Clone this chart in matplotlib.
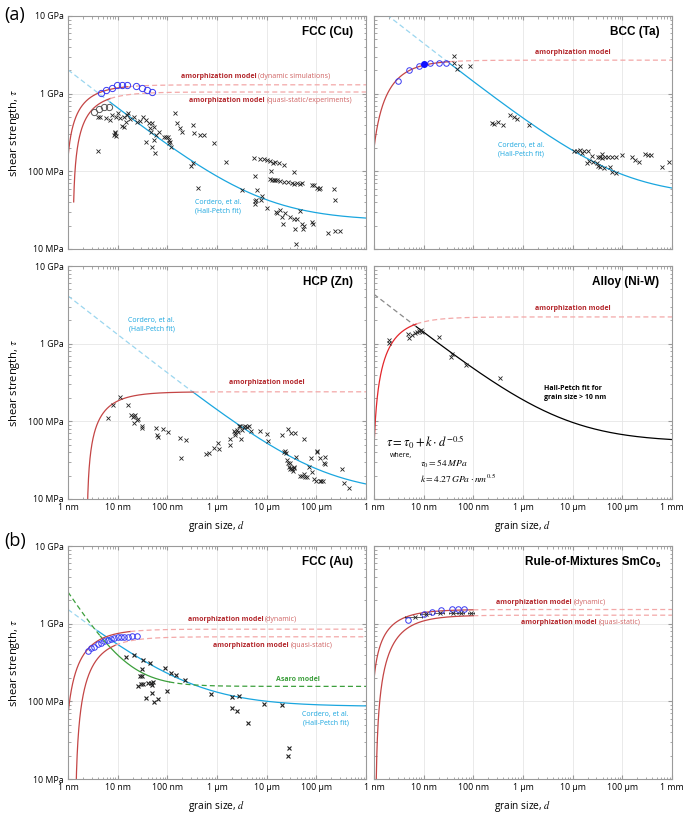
import matplotlib
matplotlib.use('Agg')
import matplotlib.pyplot as plt
import numpy as np
from matplotlib.ticker import NullFormatter

plt.rcParams['font.family'] = ['Open Sans', 'DejaVu Sans']
plt.rcParams['mathtext.fontset'] = 'stix'

# ---------------- data (grain size d in nm, shear strength tau in MPa) ----------------
# FCC (Cu)
cu_d = [4.0, 4.5, 5.9, 7.1, 7.7, 9.4, 11.3, 10, 13.6, 15.4, 18, 21, 24.5, 28.6, 32.4, 37.8, 42, 49, 44, 47, 53, 60, 67, 55,
        8.7, 9.0, 8.3, 9.4, 12.2, 13.6, 14.9, 15.9, 4.0, 37, 49, 56,
        84, 94, 102, 106, 115, 110, 120, 145, 157, 197, 183,
        300, 329, 334, 339, 421, 448, 539, 857, 1520, 3190,
        5470, 5820, 6200, 5910, 6390, 5910, 7690, 8050, 10200,
        7450, 8710, 10200, 11900, 13400, 14900, 17500, 22000, 12400,
        11500, 12800, 13800, 14900, 16100, 18800, 22700, 26500, 32400, 35000, 40800, 47600, 51400, 81800, 88400,
        103000, 111000, 120000,
        15700, 16100, 18800, 20400, 21300, 23800, 30000, 35000, 37800, 40800, 47600, 51400, 55600, 53900, 81800,
        85700, 172000, 234000, 304000,
        35000, 39600, 223000, 234000]
cu_tau = [505, 495, 481, 458, 531, 505, 481, 558, 505, 531, 467, 505, 436, 449, 505, 458, 423, 415, 358, 324, 376, 294, 324, 254,
          324, 309, 294, 285, 384, 376, 436, 558, 180, 241, 208, 174,
          280, 274, 280, 254, 241, 230, 208, 558, 423, 324, 358,
          117, 127, 395, 309, 61, 294, 294, 230, 130, 57,
          147, 86, 43, 41, 57, 38, 43, 48, 34,
          143, 143, 140, 134, 127, 130, 127, 121, 102,
          79, 78, 78, 78, 78, 74, 72, 72, 70, 69, 70, 68, 70, 67, 66,
          61, 59, 61,
          30, 29, 32, 26, 21, 29, 26, 24, 18, 24, 31, 21, 20, 18, 22,
          21, 16, 17, 17,
          97, 11.6, 59, 43]
cu_sim_d = [4.6, 5.9, 7.7, 9.7, 12.2, 15.4, 23.7, 30.8, 39, 49]
cu_sim_tau = [1030, 1110, 1200, 1290, 1300, 1300, 1250, 1170, 1110, 1040]
cu_exp_d = [3.3, 4.2, 5.2, 6.6]
cu_exp_tau = [580, 630, 665, 680]

# BCC (Ta)
ta_d = [39.9, 41, 47, 54, 85, 233, 260, 308, 401, 546, 668, 767, 1340,
        10800, 12100, 14100, 15700, 17200, 20100, 24200, 19200, 21400, 26200,
        30600, 33100, 35700, 35700, 38600, 39800, 45000, 52600, 61400, 74000,
        97800, 33100, 43700, 56800, 63300, 74000, 160000, 176000, 212000, 289000,
        327000, 382000, 627000, 881000]
ta_tau = [3035, 2490, 2070, 2260, 2260, 415, 407, 436, 395, 531, 495, 467, 395,
          185, 180, 189, 171, 185, 180, 158, 127, 134, 130,
          127, 117, 115, 155, 168, 148, 155, 155, 155, 155,
          163, 155, 110, 112, 98, 95, 155, 138, 133, 168,
          163, 163, 115, 133]
ta_sim_d = [3.1, 5.0, 8.1, 13.7, 20.8, 27.9]
ta_sim_tau = [1450, 2010, 2280, 2500, 2500, 2450]
ta_fill_d = [10.0]
ta_fill_tau = [2400]

# HCP (Zn)
zn_d = [6.3, 8.1, 11, 16.1, 18.8, 20, 21, 21.7, 22.7, 24.5, 25.7, 30.9, 30.9, 60, 62, 65, 82, 103, 183, 191, 238,
        610, 679, 857, 1030, 1080, 1800, 1850, 2170, 2270, 2340, 2530, 2610, 2820, 2950, 3040, 3190, 3440, 3720,
        4020, 4340, 4840,
        7450, 10200, 10500, 20400, 22700, 26500, 30900, 37800, 57300,
        23800, 24900, 25700, 26500, 27700, 29000, 30000, 30900, 32400, 33900, 35000, 36100, 39600,
        47600, 51400, 55600, 60100, 64900, 70100, 81800, 88400, 100000, 103000, 103000, 120000, 124000, 152000,
        140000, 136000,
        329000, 366000, 448000, 152000, 117000, 78100]
zn_tau = [110, 163, 208, 160, 121, 115, 117, 95, 119, 105, 108, 86, 82, 83, 67, 63, 80, 72, 61, 34, 58,
          38, 39, 45, 52, 44, 49, 59, 74, 67, 70, 78, 72, 87, 87, 59, 78, 84, 87,
          84, 87, 76,
          75, 69, 55, 66, 40, 79, 70, 70, 59,
          41, 39, 32, 29, 26, 24, 29, 25, 24, 23, 25, 26, 35,
          20, 20, 21, 19, 19, 26, 22, 18, 17, 40, 41, 17, 17, 35,
          29, 17,
          24, 16, 14, 28, 34, 34]

# Alloy (Ni-W)
niw_d = [1.98, 1.98, 4.85, 5.0, 5.8, 6.6, 7.5, 8.0, 8.7, 9.3, 20.2, 35, 37.5, 70, 343]
niw_tau = [1110, 1030, 1350, 1200, 1290, 1380, 1420, 1450, 1490, 1420, 1230, 670, 730, 530, 360]

# FCC (Au)
au_d = [14.9, 21, 32.4, 44, 91, 118, 150, 223,
        27.8, 30.9, 30.4, 25.3, 29.5, 32.4, 40.8, 47, 50, 50.8,
        37.8, 53.9, 63.7, 49, 98.5,
        754, 1990, 2050, 2530, 2770, 4160, 8660, 20500, 28300, 26600]
au_tau = [372, 391, 344, 312, 269, 232, 221, 187,
          214, 214, 259, 158, 168, 168, 174, 174, 164, 179,
          112, 98, 108, 130, 136,
          126, 113, 82, 75, 116, 53, 92, 91, 25, 20]
au_sim_d = [2.5, 2.9, 3.4, 4.0, 4.6, 5.4, 6.3, 7.4, 8.6, 10, 11.7, 13.6, 15.9, 19.4, 24.5]
au_sim_tau = [449, 481, 505, 541, 568, 597, 615, 628, 646, 666, 679, 679, 679, 692, 692]

# Rule-of-mixtures SmCo5
sm_sim_d = [4.85, 10, 15, 22.8, 37.4, 49.4, 64.5]
sm_sim_tau = [1133, 1353, 1435, 1493, 1553, 1553, 1553]
sm_d = [6.8, 11.3, 21, 39, 57.6, 89]
sm_tau = [1227, 1327, 1380, 1380, 1380, 1393]
sm_err = [2.5, 3, 5, 7, 8, 12]

# model parameters
# Hall-Petch: tau0 [MPa], k [MPa nm^0.5], d where the fit becomes solid
cu_hp = [23, 2000, 7.1]
ta_hp = [47, 13895, 33.6]
zn_hp = [11.5, 4108, 339]
niw_hp = [54, 4270, 7.15]
au_hp = [86, 1438, 4.0]
au_asaro = [156, 2400, 4.5, 110]
# amorphization model: saturation tau, a, n, d where it turns dashed
cu_dyn = [1300, 0.885, 1.0, 16]
cu_qs = [1050, 1.25, 1.0, 7.1]
ta_am = [2700, 0.729, 2.0, 33.6]
zn_am = [240, 2.386, 1.0, 339]
niw_am = [2210, 0.926, 1.5, 7.15]
au_dyn = [851, 0.816, 1.5, 18]
au_qs = [679, 1.38, 1.5, 9]
sm_dyn = [1524, 0.874, 1.0, 100]
sm_qs = [1288, 1.0665, 1.5, 100]

xt = [1, 10, 100, 1e3, 1e4, 1e5, 1e6]
xt_labels = ['1 nm', '10 nm', '100 nm', '1 µm', '10 µm', '100 µm', '1 mm']
yt = [10, 100, 1000, 10000]
yt_labels = ['10 MPa', '100 MPa', '1 GPa', '10 GPa']

RED = '#c44545'
RED_DASH = '#f3a8a8'
RED_TXT = '#b3262b'
RED_LIGHT = '#cf6262'
CYAN = '#1aa6df'
CYAN_DASH = '#9bd6ef'
BLUE = '#3a3af2'
GREEN = '#3c9f3c'
DASH = (0, (4, 2.5))

fig = plt.figure(figsize=(6.85, 8.16), dpi=100)
L, R, W, H = 0.0993, 0.546, 0.435, 0.2855
rows = [0.6949, 0.3885, 0.0453]


def frame(ax, left, xlab):
    ax.set_xscale('log')
    ax.set_yscale('log')
    ax.set_xlim(1, 1e6)
    ax.set_ylim(10, 1e4)
    ax.set_xticks(xt)
    ax.set_yticks(yt)
    if xlab:
        labs = list(xt_labels)
        if left:
            labs[-1] = ''
        ax.set_xticklabels(labs)
        ax.set_xlabel(r'grain size, $d$', fontsize=7.3, labelpad=5)
    else:
        ax.set_xticklabels([])
    if left:
        ax.set_yticklabels(yt_labels)
        ax.set_ylabel(r'shear strength, $\tau$', fontsize=8)
        ax.yaxis.set_label_coords(-0.153, 0.5)
    else:
        ax.set_yticklabels([])
    ax.xaxis.set_minor_formatter(NullFormatter())
    ax.yaxis.set_minor_formatter(NullFormatter())
    ax.grid(True, which='major', color='#e6e6e6', lw=0.6)
    ax.set_axisbelow(True)
    ax.tick_params(which='both', direction='in', top=True, right=True, color='#999999',
                   labelsize=6.3, pad=3)
    ax.tick_params(which='major', length=3)
    ax.tick_params(which='minor', length=1.8)
    for s in ax.spines.values():
        s.set_color('#9a9a9a')
        s.set_linewidth(0.8)


def pieces(ax, f, segs):
    for lo, hi, c, ls in segs:
        if hi > lo:
            dd = np.logspace(np.log10(lo), np.log10(hi), 500)
            ax.plot(dd, f(dd), color=c, ls=ls, lw=0.9)


def hall_petch(ax, p, color=CYAN, dcolor=CYAN_DASH):
    tau0, k, ds = p
    pieces(ax, lambda d: tau0 + k * d ** -0.5, [(1, ds, dcolor, DASH), (ds, 1e6, color, '-')])


def amorph(ax, p, start=None, color=RED):
    ts, a, n, ds = p
    if start is None:
        start = max(1.0, a * 1.0001)
    f = lambda d: ts * np.clip(1 - a / d, 1e-9, None) ** n
    pieces(ax, f, [(start, ds, color, '-'), (ds, 1e6, RED_DASH, DASH)])


def title(ax, s, x=0.956):
    ax.text(x, 0.932, s, transform=ax.transAxes, ha='right', va='center',
            fontsize=8.5, fontweight='bold', family='Liberation Sans')


def am_label(ax, x, y, note=None, ha='right'):
    ax.text(x, y, 'amorphization model', transform=ax.transAxes, ha=ha, va='center',
            fontsize=5, fontweight='bold', color=RED_TXT)
    if note:
        ax.text(x + 0.006, y, note, transform=ax.transAxes, ha='left', va='center',
                fontsize=5, color=RED_LIGHT)


def cordero(ax, x, y):
    ax.text(x, y, 'Cordero, et al.\n(Hall-Petch fit)', transform=ax.transAxes, ha='center',
            va='center', fontsize=5, color=CYAN, linespacing=1.3)


def crosses(ax, d, t, ms=3, mew=0.6):
    ax.plot(d, t, 'x', color='#222222', ms=ms, mew=mew, ls='none')


def circles(ax, d, t, color=BLUE, ms=4):
    ax.plot(d, t, 'o', mfc='none', mec=color, ms=ms, mew=0.7, ls='none')


# ---- FCC (Cu)
ax = fig.add_axes([L, rows[0], W, H])
frame(ax, True, False)
hall_petch(ax, cu_hp)
amorph(ax, cu_dyn)
amorph(ax, cu_qs, start=1.3)
crosses(ax, cu_d, cu_tau)
circles(ax, cu_sim_d, cu_sim_tau, ms=4.5)
circles(ax, cu_exp_d, cu_exp_tau, color='#555555', ms=4.5)
title(ax, 'FCC (Cu)')
am_label(ax, 0.632, 0.739, '(dynamic simulations)')
am_label(ax, 0.660, 0.639, '(quasi-static/experiments)')
cordero(ax, 0.503, 0.181)

# ---- BCC (Ta)
ax = fig.add_axes([R, rows[0], W, H])
frame(ax, False, False)
hall_petch(ax, ta_hp)
amorph(ax, ta_am)
crosses(ax, ta_d, ta_tau)
circles(ax, ta_sim_d, ta_sim_tau)
ax.plot(ta_fill_d, ta_fill_tau, 'o', color='#1010ff', ms=4, ls='none')
title(ax, 'BCC (Ta)', x=0.957)
am_label(ax, 0.668, 0.842, ha='center')
cordero(ax, 0.493, 0.424)

# ---- HCP (Zn)
ax = fig.add_axes([L, rows[1], W, H])
frame(ax, True, True)
hall_petch(ax, zn_hp)
amorph(ax, zn_am)
crosses(ax, zn_d, zn_tau)
title(ax, 'HCP (Zn)')
am_label(ax, 0.666, 0.502, ha='center')
cordero(ax, 0.280, 0.749)

# ---- Alloy (Ni-W)
ax = fig.add_axes([R, rows[1], W, H])
frame(ax, False, True)
hall_petch(ax, niw_hp, color='black', dcolor='#8a8a8a')
amorph(ax, niw_am, color='#e3262b')
crosses(ax, niw_d, niw_tau)
title(ax, 'Alloy (Ni-W)', x=0.957)
am_label(ax, 0.668, 0.817, ha='center')
ax.text(0.571, 0.457, 'Hall-Petch fit for\ngrain size > 10 nm', transform=ax.transAxes, ha='left',
        va='center', fontsize=5, fontweight='bold', linespacing=1.4)
ax.text(0.041, 0.243, r'$\tau = \tau_0 + k\cdot d^{-0.5}$', transform=ax.transAxes, ha='left',
        va='center', fontsize=9)
ax.text(0.055, 0.185, 'where,', transform=ax.transAxes, ha='left', va='center', fontsize=5)
ax.text(0.154, 0.150, r'$\tau_0 = 54\,MPa$', transform=ax.transAxes, ha='left', va='center', fontsize=6.8)
ax.text(0.154, 0.088, r'$k = 4.27\,GPa\cdot nm^{0.5}$', transform=ax.transAxes, ha='left',
        va='center', fontsize=6.8)

# ---- FCC (Au)
ax = fig.add_axes([L, rows[2], W, H])
frame(ax, True, True)
hall_petch(ax, au_hp)
t0, k, a0, a1 = au_asaro
pieces(ax, lambda d: t0 + k / d, [(1, a0, GREEN, DASH), (a0, a1, GREEN, '-'), (a1, 1e6, GREEN, DASH)])
amorph(ax, au_dyn)
amorph(ax, au_qs)
crosses(ax, au_d, au_tau, ms=2.6, mew=0.8)
circles(ax, au_sim_d, au_sim_tau, ms=4)
title(ax, 'FCC (Au)')
am_label(ax, 0.655, 0.686, '(dynamic)')
am_label(ax, 0.742, 0.575, '(quasi-static)')
ax.text(0.773, 0.428, 'Asaro model', transform=ax.transAxes, ha='center', va='center',
        fontsize=5, fontweight='bold', color=GREEN)
cordero(ax, 0.864, 0.260)

# ---- Rule-of-Mixtures SmCo5
ax = fig.add_axes([R, rows[2], W, H])
frame(ax, False, True)
amorph(ax, sm_dyn)
amorph(ax, sm_qs)
ax.errorbar(sm_d, sm_tau, xerr=sm_err, fmt='x', color='#222222', ms=3, mew=0.6,
            elinewidth=0.5, capsize=1, capthick=0.5)
circles(ax, sm_sim_d, sm_sim_tau, ms=4)
title(ax, 'Rule-of-Mixtures SmCo', x=0.945)
ax.text(0.947, 0.915, '5', transform=ax.transAxes, ha='left', va='center', fontsize=5.5,
        fontweight='bold', family='Liberation Sans')
am_label(ax, 0.664, 0.756, '(dynamic)')
am_label(ax, 0.748, 0.672, '(quasi-static)')

fig.text(0.006, 0.982, '(a)', fontsize=13, va='center', ha='left')
fig.text(0.006, 0.337, '(b)', fontsize=13, va='center', ha='left')

fig.savefig('out.png', dpi=100)
